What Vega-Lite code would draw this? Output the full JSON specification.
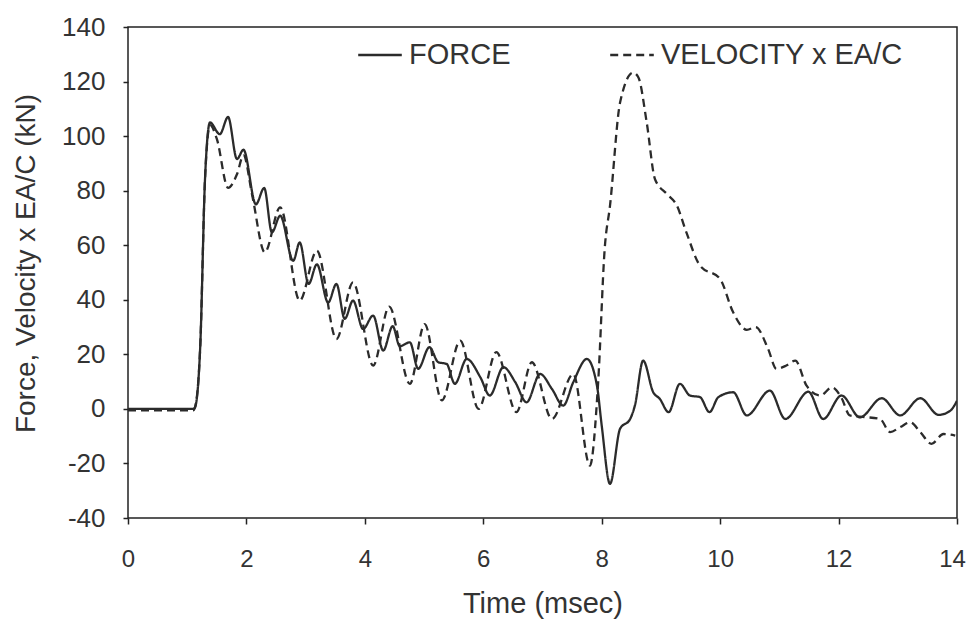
{
  "$schema": "https://vega.github.io/schema/vega-lite/v6.json",
  "width": 829,
  "height": 491,
  "autosize": {"type": "none"},
  "padding": {"left": 128, "top": 27, "right": 11, "bottom": 103},
  "background": "white",
  "config": {
    "font": "Liberation Sans",
    "view": {"stroke": "#222", "strokeWidth": 1.5},
    "axis": {"grid": false, "domain": false, "tickColor": "#222", "tickWidth": 1.5, "labelColor": "#333", "titleColor": "#333", "labelFont": "Liberation Sans", "titleFont": "Liberation Sans", "titleFontWeight": "normal", "labelLimit": 0}
  },
  "datasets": {
    "curves": [
      {"t": 0, "v": 0, "series": "FORCE"},
      {"t": 1.1, "v": 0, "series": "FORCE"},
      {"t": 1.13, "v": 0.5, "series": "FORCE"},
      {"t": 1.22, "v": 23, "series": "FORCE"},
      {"t": 1.3, "v": 84, "series": "FORCE"},
      {"t": 1.385, "v": 105, "series": "FORCE"},
      {"t": 1.55, "v": 100.7, "series": "FORCE"},
      {"t": 1.69, "v": 107, "series": "FORCE"},
      {"t": 1.84, "v": 91.6, "series": "FORCE"},
      {"t": 1.95, "v": 95, "series": "FORCE"},
      {"t": 2.16, "v": 75, "series": "FORCE"},
      {"t": 2.3, "v": 81, "series": "FORCE"},
      {"t": 2.43, "v": 64.7, "series": "FORCE"},
      {"t": 2.57, "v": 70.8, "series": "FORCE"},
      {"t": 2.79, "v": 54.3, "series": "FORCE"},
      {"t": 2.9, "v": 61, "series": "FORCE"},
      {"t": 3.05, "v": 45.8, "series": "FORCE"},
      {"t": 3.19, "v": 53, "series": "FORCE"},
      {"t": 3.38, "v": 39, "series": "FORCE"},
      {"t": 3.52, "v": 45.8, "series": "FORCE"},
      {"t": 3.66, "v": 33, "series": "FORCE"},
      {"t": 3.8, "v": 39.7, "series": "FORCE"},
      {"t": 3.97, "v": 29.3, "series": "FORCE"},
      {"t": 4.14, "v": 34.2, "series": "FORCE"},
      {"t": 4.31, "v": 21.4, "series": "FORCE"},
      {"t": 4.47, "v": 30.3, "series": "FORCE"},
      {"t": 4.59, "v": 23, "series": "FORCE"},
      {"t": 4.76, "v": 24.4, "series": "FORCE"},
      {"t": 4.9, "v": 14.7, "series": "FORCE"},
      {"t": 5.09, "v": 22.6, "series": "FORCE"},
      {"t": 5.24, "v": 17.1, "series": "FORCE"},
      {"t": 5.38, "v": 16.5, "series": "FORCE"},
      {"t": 5.52, "v": 9.2, "series": "FORCE"},
      {"t": 5.72, "v": 18.3, "series": "FORCE"},
      {"t": 5.95, "v": 11.6, "series": "FORCE"},
      {"t": 6.11, "v": 4.9, "series": "FORCE"},
      {"t": 6.34, "v": 15.3, "series": "FORCE"},
      {"t": 6.54, "v": 9.8, "series": "FORCE"},
      {"t": 6.73, "v": 2.4, "series": "FORCE"},
      {"t": 6.96, "v": 12.8, "series": "FORCE"},
      {"t": 7.16, "v": 7.3, "series": "FORCE"},
      {"t": 7.35, "v": 1.2, "series": "FORCE"},
      {"t": 7.52, "v": 9.8, "series": "FORCE"},
      {"t": 7.75, "v": 18.3, "series": "FORCE"},
      {"t": 7.92, "v": 8.5, "series": "FORCE"},
      {"t": 8.0, "v": -6.1, "series": "FORCE"},
      {"t": 8.14, "v": -27.5, "series": "FORCE"},
      {"t": 8.31, "v": -7.3, "series": "FORCE"},
      {"t": 8.48, "v": -3.7, "series": "FORCE"},
      {"t": 8.56, "v": 1.2, "series": "FORCE"},
      {"t": 8.7, "v": 17.7, "series": "FORCE"},
      {"t": 8.87, "v": 6.1, "series": "FORCE"},
      {"t": 8.98, "v": 3.7, "series": "FORCE"},
      {"t": 9.13, "v": -1.2, "series": "FORCE"},
      {"t": 9.32, "v": 9.2, "series": "FORCE"},
      {"t": 9.49, "v": 4.9, "series": "FORCE"},
      {"t": 9.66, "v": 4.3, "series": "FORCE"},
      {"t": 9.82, "v": -1.2, "series": "FORCE"},
      {"t": 9.97, "v": 4.3, "series": "FORCE"},
      {"t": 10.22, "v": 6.1, "series": "FORCE"},
      {"t": 10.45, "v": -2.4, "series": "FORCE"},
      {"t": 10.84, "v": 6.7, "series": "FORCE"},
      {"t": 11.1, "v": -3.7, "series": "FORCE"},
      {"t": 11.49, "v": 6.3, "series": "FORCE"},
      {"t": 11.74, "v": -3.7, "series": "FORCE"},
      {"t": 12.05, "v": 4.9, "series": "FORCE"},
      {"t": 12.36, "v": -3.1, "series": "FORCE"},
      {"t": 12.73, "v": 3.9, "series": "FORCE"},
      {"t": 13.04, "v": -2.4, "series": "FORCE"},
      {"t": 13.38, "v": 3.9, "series": "FORCE"},
      {"t": 13.69, "v": -2.2, "series": "FORCE"},
      {"t": 13.89, "v": -0.6, "series": "FORCE"},
      {"t": 14.0, "v": 3, "series": "FORCE"},

      {"t": 0, "v": -0.5, "series": "VELOCITY x EA/C"},
      {"t": 1.1, "v": -0.5, "series": "VELOCITY x EA/C"},
      {"t": 1.13, "v": 0.5, "series": "VELOCITY x EA/C"},
      {"t": 1.22, "v": 23, "series": "VELOCITY x EA/C"},
      {"t": 1.3, "v": 84, "series": "VELOCITY x EA/C"},
      {"t": 1.385, "v": 104, "series": "VELOCITY x EA/C"},
      {"t": 1.5, "v": 99, "series": "VELOCITY x EA/C"},
      {"t": 1.69, "v": 81, "series": "VELOCITY x EA/C"},
      {"t": 1.84, "v": 86, "series": "VELOCITY x EA/C"},
      {"t": 1.95, "v": 93, "series": "VELOCITY x EA/C"},
      {"t": 2.1, "v": 78, "series": "VELOCITY x EA/C"},
      {"t": 2.31, "v": 57.4, "series": "VELOCITY x EA/C"},
      {"t": 2.57, "v": 73.9, "series": "VELOCITY x EA/C"},
      {"t": 2.9, "v": 39.7, "series": "VELOCITY x EA/C"},
      {"t": 3.19, "v": 58, "series": "VELOCITY x EA/C"},
      {"t": 3.52, "v": 25.6, "series": "VELOCITY x EA/C"},
      {"t": 3.8, "v": 46.4, "series": "VELOCITY x EA/C"},
      {"t": 4.14, "v": 15.9, "series": "VELOCITY x EA/C"},
      {"t": 4.41, "v": 37.5, "series": "VELOCITY x EA/C"},
      {"t": 4.76, "v": 9.2, "series": "VELOCITY x EA/C"},
      {"t": 5.01, "v": 31.1, "series": "VELOCITY x EA/C"},
      {"t": 5.3, "v": 3.1, "series": "VELOCITY x EA/C"},
      {"t": 5.61, "v": 25, "series": "VELOCITY x EA/C"},
      {"t": 5.92, "v": 0, "series": "VELOCITY x EA/C"},
      {"t": 6.22, "v": 20.8, "series": "VELOCITY x EA/C"},
      {"t": 6.56, "v": -1.2, "series": "VELOCITY x EA/C"},
      {"t": 6.82, "v": 17.1, "series": "VELOCITY x EA/C"},
      {"t": 7.16, "v": -3.7, "series": "VELOCITY x EA/C"},
      {"t": 7.52, "v": 12.8, "series": "VELOCITY x EA/C"},
      {"t": 7.8, "v": -20.8, "series": "VELOCITY x EA/C"},
      {"t": 7.94, "v": 9.8, "series": "VELOCITY x EA/C"},
      {"t": 8.05, "v": 58.6, "series": "VELOCITY x EA/C"},
      {"t": 8.14, "v": 74.5, "series": "VELOCITY x EA/C"},
      {"t": 8.31, "v": 112.3, "series": "VELOCITY x EA/C"},
      {"t": 8.53, "v": 123.3, "series": "VELOCITY x EA/C"},
      {"t": 8.62, "v": 121.5, "series": "VELOCITY x EA/C"},
      {"t": 8.76, "v": 105, "series": "VELOCITY x EA/C"},
      {"t": 8.9, "v": 84.2, "series": "VELOCITY x EA/C"},
      {"t": 9.1, "v": 78.8, "series": "VELOCITY x EA/C"},
      {"t": 9.27, "v": 74.5, "series": "VELOCITY x EA/C"},
      {"t": 9.43, "v": 64.7, "series": "VELOCITY x EA/C"},
      {"t": 9.66, "v": 52.5, "series": "VELOCITY x EA/C"},
      {"t": 10.0, "v": 47.6, "series": "VELOCITY x EA/C"},
      {"t": 10.22, "v": 35.4, "series": "VELOCITY x EA/C"},
      {"t": 10.45, "v": 29, "series": "VELOCITY x EA/C"},
      {"t": 10.6, "v": 30, "series": "VELOCITY x EA/C"},
      {"t": 10.81, "v": 22, "series": "VELOCITY x EA/C"},
      {"t": 10.95, "v": 14.7, "series": "VELOCITY x EA/C"},
      {"t": 11.12, "v": 15.9, "series": "VELOCITY x EA/C"},
      {"t": 11.27, "v": 17.7, "series": "VELOCITY x EA/C"},
      {"t": 11.46, "v": 8.5, "series": "VELOCITY x EA/C"},
      {"t": 11.69, "v": 4.9, "series": "VELOCITY x EA/C"},
      {"t": 11.89, "v": 7.9, "series": "VELOCITY x EA/C"},
      {"t": 12.05, "v": 4, "series": "VELOCITY x EA/C"},
      {"t": 12.19, "v": -2.4, "series": "VELOCITY x EA/C"},
      {"t": 12.45, "v": -3, "series": "VELOCITY x EA/C"},
      {"t": 12.7, "v": -3.7, "series": "VELOCITY x EA/C"},
      {"t": 12.87, "v": -8.5, "series": "VELOCITY x EA/C"},
      {"t": 13.04, "v": -6.7, "series": "VELOCITY x EA/C"},
      {"t": 13.21, "v": -4.9, "series": "VELOCITY x EA/C"},
      {"t": 13.38, "v": -8.5, "series": "VELOCITY x EA/C"},
      {"t": 13.57, "v": -12.8, "series": "VELOCITY x EA/C"},
      {"t": 13.77, "v": -9.2, "series": "VELOCITY x EA/C"},
      {"t": 13.97, "v": -9.8, "series": "VELOCITY x EA/C"}
    ]
  },
  "layer": [
    {
      "mark": {"type": "rule", "color": "#2b2b2b", "strokeWidth": 2},
      "encoding": {"y": {"datum": 0, "type": "quantitative"}}
    },
    {
      "data": {"name": "curves"},
      "mark": {"type": "line", "interpolate": "monotone", "color": "#2b2b2b", "strokeWidth": 2.3, "clip": true},
      "encoding": {
        "x": {
          "field": "t", "type": "quantitative",
          "scale": {"domain": [0, 14], "nice": false},
          "axis": {"values": [0, 2, 4, 6, 8, 10, 12, 14], "labelFlush": false, "labelOffset": {"condition": {"test": "datum.value == 14", "value": -5}, "value": 0}, "title": "Time (msec)", "tickSize": 6, "labelPadding": 23, "labelFontSize": 24, "titleFontSize": 29, "titlePadding": 18}
        },
        "y": {
          "field": "v", "type": "quantitative",
          "scale": {"domain": [-40, 140], "nice": false},
          "axis": {"values": [-40, -20, 0, 20, 40, 60, 80, 100, 120, 140], "labelExpr": "'' + datum.value", "title": "Force, Velocity x EA/C (kN)", "tickSize": 5, "labelPadding": 18, "labelFontSize": 26, "titleFontSize": 28, "titlePadding": 21, "titleY": 236}
        },
        "strokeDash": {
          "field": "series", "type": "nominal",
          "scale": {"domain": ["FORCE", "VELOCITY x EA/C"], "range": [[1, 0], [8, 5]]},
          "legend": {"orient": "none", "legendX": 229, "legendY": 5, "direction": "horizontal", "title": null, "symbolType": "stroke", "symbolSize": 1900, "symbolStrokeWidth": 2.3, "symbolStrokeColor": "#2b2b2b", "labelFontSize": 29, "labelColor": "#333", "labelLimit": 0, "columnPadding": 94, "labelOffset": 6}
        }
      }
    }
  ]
}
